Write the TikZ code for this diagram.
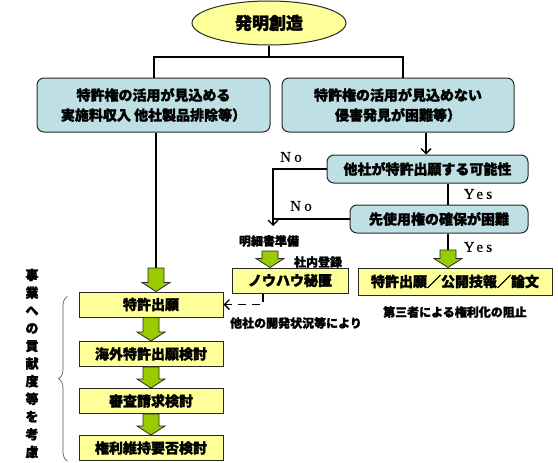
\documentclass[tikz,border=0pt]{standalone}
\usepackage{fontspec}
\setmainfont{Noto Sans CJK JP}[BoldFeatures={FakeBold=1.6}]
\newfontfamily\yesfont[LetterSpace=22,FakeBold=0.6]{Liberation Serif}
\usetikzlibrary{shapes.geometric,arrows.meta,calc,decorations.pathreplacing}
\definecolor{bluefill}{RGB}{190,224,228}
\definecolor{yelfill}{RGB}{255,255,153}
\definecolor{grnfill}{RGB}{153,204,0}
\definecolor{edgec}{RGB}{40,40,40}
\tikzset{
 bluebox/.style={draw=edgec, line width=1pt, fill=bluefill, rounded corners=7pt, inner sep=0pt, font=\fontsize{14}{20}\selectfont\bfseries, align=center},
 yelbox/.style={draw=edgec, line width=1pt, fill=yelfill, inner sep=0pt, font=\fontsize{14}{17}\selectfont\bfseries},
 conn/.style={draw=black, line width=1.3pt},
 tipped/.style={-{Straight Barb[length=5pt,width=10pt]}},
 lbl/.style={font=\fontsize{12}{14}\selectfont\bfseries, inner sep=0pt},
 yn/.style={font=\fontsize{15}{17}\selectfont\yesfont, inner sep=0pt},
 garrow/.style={draw=edgec, line width=0.8pt, fill=grnfill, line join=miter},
 bracec/.style={draw=black!65, line width=0.7pt, decorate, decoration={brace, amplitude=9pt}},
}
\newcommand\gdown[2]{\draw[garrow] let \p1=(#1), \p2=(#2) in
  (\x1-8pt,\y1) -- (\x1+8pt,\y1) -- (\x1+8pt,\y2+9pt) -- (\x1+14pt,\y2+9pt) --
  (\x1,\y2) -- (\x1-14pt,\y2+9pt) -- (\x1-8pt,\y2+9pt) -- cycle;}
\begin{document}
\begin{tikzpicture}[x=1pt,y=-1pt]
\useasboundingbox (0,0) rectangle (558,463);
% nodes
\node[ellipse, draw=edgec, line width=1pt, fill=yelfill, minimum width=154pt, minimum height=44pt, inner sep=0pt, font=\fontsize{17}{20}\selectfont\bfseries] (inv) at (269,23) {発明創造};
\node[bluebox, minimum width=233pt, minimum height=54pt] (L) at (153.5,105) {特許権の活用が見込める\\実施料収入 他社製品排除等）};
\node[bluebox, minimum width=232pt, minimum height=54pt] (R) at (398,105) {特許権の活用が見込めない\\侵害発見が困難等）};
\node[bluebox, minimum width=201pt, minimum height=28pt] (q1) at (427.5,169) {他社が特許出願する可能性};
\node[bluebox, minimum width=178pt, minimum height=28pt] (q2) at (439,219) {先使用権の確保が困難};
\node[yelbox, minimum width=194pt, minimum height=27pt] (pub) at (455,281.5) {特許出願／公開技報／論文};
\node[yelbox, minimum width=116pt, minimum height=25pt] (know) at (290,280.5) {ノウハウ秘匿};
\node[yelbox, minimum width=144pt, minimum height=25pt] (s1) at (151,304.5) {特許出願};
\node[yelbox, minimum width=144pt, minimum height=25pt] (s2) at (151,354) {海外特許出願検討};
\node[yelbox, minimum width=144pt, minimum height=25pt] (s3) at (151,401) {審査請求検討};
\node[yelbox, minimum width=144pt, minimum height=25pt] (s4) at (151,448) {権利維持要否検討};
% labels
\node[lbl] (spec) at (269,241) {明細書準備};
\node[lbl] (reg) at (318,262) {社内登録};
\node[lbl] (dev) at (296,323) {他社の開発状況等により};
\node[lbl] (block) at (455,312) {第三者による権利化の阻止};
\node[yn] (no1) at (291,157) {No};
\node[yn] (no2) at (301,206) {No};
\node[yn] (yes1) at (478,194) {Yes};
\node[yn] (yes2) at (478,247) {Yes};
\node[font=\fontsize{13}{17.7}\selectfont\bfseries, align=center, inner sep=0pt] (vt) at (32,363.5) {事\\業\\へ\\の\\貢\\献\\度\\等\\を\\考\\慮};
% connectors
\coordinate (jL) at (154,57);
\coordinate (jR) at (403,57);
\draw[conn] (inv.south) -- (inv.south |- jL);
\draw[conn] (jL |- L.north) -- (jL) -- (jR) -- (jR |- R.north);
\coordinate (rc) at (426,0);
\draw[conn, tipped] (R.south -| rc) -- (q1.north -| rc);
\coordinate (nt) at (273,226);
\draw[conn, tipped] (q1.west) -| (nt);
\draw[conn] (q2.west) -- (q2.west -| nt);
\coordinate (yc) at (448,0);
\draw[conn] (q1.south -| yc) -- (q2.north -| yc);
\coordinate (ga) at (448,250);
\draw[conn] (q2.south -| ga) -- (ga);
\gdown{ga}{pub.north}
\coordinate (ma) at (270,251);
\gdown{ma}{know.north}
\coordinate (la) at (156,268);
\draw[conn] (L.south -| la) -- (la);
\gdown{la}{s1.north}
\gdown{s1.south}{s2.north}
\gdown{s2.south}{s3.north}
\gdown{s3.south}{s4.north}
\coordinate (dk) at (263,0);
\draw[conn, dash pattern=on 8pt off 6pt, tipped] (know.south -| dk) |- (s1.east);
\draw[bracec] ([xshift=-11pt]s4.south west) -- ([xshift=-11pt,yshift=-5pt]s1.north west);
\end{tikzpicture}
\end{document}
